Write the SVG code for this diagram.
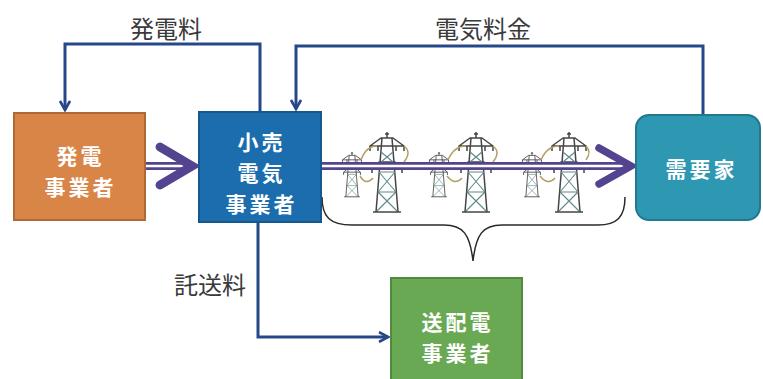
<svg xmlns="http://www.w3.org/2000/svg" xmlns:xlink="http://www.w3.org/1999/xlink" width="763" height="379" viewBox="0 0 763 379">
  <style>
    .label { font-family: "Noto Sans CJK JP", "Noto Sans", sans-serif; font-size: 24px; fill: #3a3a3a; }
    .nodeText { font-family: "Noto Sans CJK JP", "Noto Sans", sans-serif; font-size: 21px; letter-spacing: 3px; font-weight: 700; fill: #ffffff; text-anchor: middle; }
    .flow { fill: none; stroke: #26488a; stroke-width: 3; }
    .power { fill: none; stroke: #54448f; stroke-width: 8; }
    .powerCore { fill: none; stroke: #ffffff; stroke-width: 2.5; }
    .chevron { fill: none; stroke: #54448f; stroke-linecap: round; stroke-linejoin: miter; }
    .tower { fill: none; stroke: #454545; stroke-width: 1.5; stroke-linejoin: round; }
    .lattice { fill: none; stroke: #5f8a8a; stroke-width: 1.1; }
    .wire { fill: none; stroke: #b59d62; stroke-width: 1.5; }
    .brace { fill: none; stroke: #2a2a2a; stroke-width: 1.5; }
  </style>
  <defs>
    <marker id="flowHead" viewBox="0 0 12 12" refX="10" refY="6" markerWidth="12" markerHeight="12" markerUnits="userSpaceOnUse" orient="auto">
      <path d="M1,1 L10,6 L1,11" fill="none" stroke="#26488a" stroke-width="2.6" stroke-linejoin="miter"/>
    </marker>
    <!-- lattice pylon, origin at top centre -->
    <g id="pylon">
      <path class="tower" d="M0,0 L0,6 M-2,2 L2,2"/>
      <path class="tower" d="M-6,6 L6,6 L17,14 L-17,14 Z"/>
      <path class="tower" d="M-17,14 L-17,19 M17,14 L17,19 M-9,14 L-9,19 M9,14 L9,19"/>
      <path class="tower" d="M-5,6 L-11,80 M5,6 L11,80"/>
      <path class="tower" d="M-8,30 L8,30 L15,36 L-15,36 Z"/>
      <path class="tower" d="M-15,36 L-15,41 M15,36 L15,41"/>
      <path class="lattice" d="M-6,20 L6,30 M6,20 L-6,30 M-8,40 L9,60 M8,40 L-9,60 M-9,60 L11,80 M9,60 L-11,80 M-8,40 L8,40 M-9,60 L9,60"/>
      <path class="tower" d="M-14,80 L14,80"/>
    </g>
  </defs>

  <!-- connectors -->
  <g id="connectors">
    <!-- generation fee -->
    <path class="flow" d="M260,111 L260,44 L65,44 L65,110" marker-end="url(#flowHead)"/>
    <!-- electricity bill -->
    <path class="flow" d="M703,115 L703,46 L296,46 L296,109" marker-end="url(#flowHead)"/>
    <!-- wheeling charge -->
    <path class="flow" d="M258,222 L258,337 L388,337" marker-end="url(#flowHead)"/>

    <!-- power supply: generator to retailer -->
    <line class="power" x1="145" y1="166" x2="186" y2="166"/>
    <line class="powerCore" x1="145" y1="166" x2="186" y2="166"/>
    <path class="chevron" stroke-width="9" d="M160,147 L192,166 L160,185"/>

    <!-- transmission towers -->
    <g id="pylons">
      <use xlink:href="#pylon" transform="translate(352,152) scale(0.56)"/>
      <use xlink:href="#pylon" transform="translate(387,132)"/>
      <use xlink:href="#pylon" transform="translate(439,152) scale(0.56)"/>
      <use xlink:href="#pylon" transform="translate(476,132)"/>
      <use xlink:href="#pylon" transform="translate(532,152) scale(0.56)"/>
      <use xlink:href="#pylon" transform="translate(569,132)"/>
      <path class="wire" d="M361,160 Q366,146 377,146 M404,146 Q412,152 404,162 M360,176 Q366,186 373,178"/>
      <path class="wire" d="M448,160 Q454,146 466,146 M493,146 Q501,152 493,162 M447,176 Q455,186 462,178"/>
      <path class="wire" d="M541,160 Q547,146 559,146 M586,146 Q592,152 586,160 M540,176 Q548,186 555,178"/>
    </g>

    <!-- power supply: retailer to consumer -->
    <line class="power" x1="321" y1="166" x2="628" y2="166"/>
    <line class="powerCore" x1="321" y1="166" x2="628" y2="166"/>
    <path class="chevron" stroke-width="7.5" d="M599,148 L631,166 L599,184"/>

    <!-- brace under the grid -->
    <path class="brace" d="M322,197 C322,217 330,225 352,225 L444,225 C463,225 470,234 473,261 C476,234 483,225 502,225 L598,225 C617,225 625,217 625,197"/>
  </g>

  <!-- labels -->
  <text class="label" x="130" y="27" dominant-baseline="central">発電料</text>
  <text class="label" x="435" y="27" dominant-baseline="central">電気料金</text>
  <text class="label" x="174" y="283" dominant-baseline="central">託送料</text>

  <!-- nodes -->
  <g id="generator">
    <rect x="14" y="113" width="131" height="107" fill="#da8548" stroke="#ad6a35" stroke-width="2"/>
    <text class="nodeText" dominant-baseline="central"><tspan x="80.5" y="155">発電</tspan><tspan x="80.5" y="186">事業者</tspan></text>
  </g>

  <g id="retailer">
    <rect x="199" y="112" width="122" height="110" fill="#1c6dae" stroke="#15588e" stroke-width="2"/>
    <text class="nodeText" dominant-baseline="central"><tspan x="261.5" y="141">小売</tspan><tspan x="261.5" y="172">電気</tspan><tspan x="261.5" y="203">事業者</tspan></text>
  </g>

  <g id="consumer">
    <rect x="636" y="115" width="124" height="105" rx="13" ry="13" fill="#2e97b2" stroke="#21788f" stroke-width="2"/>
    <text class="nodeText" x="701.5" y="168" dominant-baseline="central">需要家</text>
  </g>

  <g id="grid-operator">
    <rect x="391" y="278" width="131" height="110" fill="#6aa954" stroke="#4f8a3d" stroke-width="2"/>
    <text class="nodeText" dominant-baseline="central"><tspan x="457.5" y="321">送配電</tspan><tspan x="457.5" y="352">事業者</tspan></text>
  </g>
</svg>
